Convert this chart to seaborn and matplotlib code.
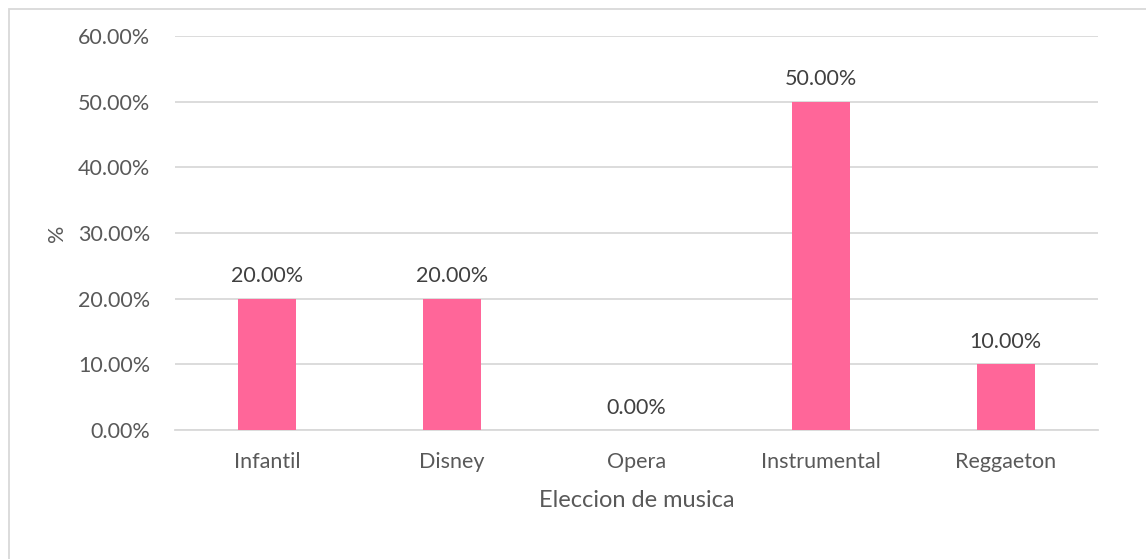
import matplotlib
matplotlib.use("Agg")
import matplotlib.pyplot as plt
import seaborn as sns
import pandas as pd
from matplotlib.patches import Rectangle
from matplotlib.ticker import FuncFormatter

categorias = ["Infantil", "Disney", "Opera", "Instrumental", "Reggaeton"]
porcentajes = [20.0, 20.0, 0.0, 50.0, 10.0]
ticks_y = [0, 10, 20, 30, 40, 50, 60]

df = pd.DataFrame({"categoria": categorias, "pct": porcentajes})

sns.set_theme(style="white")
plt.rcParams["font.family"] = ["Lato", "DejaVu Sans"]

texto = "#595959"
rejilla = "#D9D9D9"
rosa = "#FF6699"

W, H = 1146, 559
fig = plt.figure(figsize=(W / 100, H / 100), dpi=100)
ax = fig.add_axes([175 / W, 1 - 430 / H, (1098 - 175) / W, (430 - 36) / H])

sns.barplot(data=df, x="categoria", y="pct", color=rosa, width=0.315,
            saturation=1, linewidth=0, ax=ax, zorder=3)

ax.set_ylim(0, 60)
ax.set_yticks(ticks_y)
ax.yaxis.set_major_formatter(FuncFormatter(lambda v, p: f"{v:.2f}%"))
ax.set_xlim(-0.5, len(categorias) - 0.5)
ax.grid(axis="y", color=rejilla, linewidth=1.3, zorder=0)
ax.grid(axis="x", visible=False)
for s in ["top", "right", "left"]:
    ax.spines[s].set_visible(False)
ax.spines["bottom"].set_color(rejilla)
ax.spines["bottom"].set_linewidth(1.3)
ax.tick_params(axis="both", length=0, labelsize=15.5, labelcolor=texto)
ax.tick_params(axis="y", pad=18)
ax.tick_params(axis="x", pad=16)

for i, v in enumerate(porcentajes):
    ax.annotate(f"{v:.2f}%", (i, v), xytext=(0, 9), textcoords="offset points",
                ha="center", va="bottom", fontsize=15.5, color="#404040")

ax.set_xlabel("Eleccion de musica", fontsize=17, color=texto, labelpad=13)
ax.set_ylabel("%", fontsize=15.5, color=texto, labelpad=8)

fig.patches.append(Rectangle((8.5 / W, -0.01), 1.02, 1 - 8.5 / H + 0.01,
                             transform=fig.transFigure, fill=False,
                             edgecolor="#D9D9D9", linewidth=1.3))

fig.savefig("out.png", dpi=100, facecolor="white")
